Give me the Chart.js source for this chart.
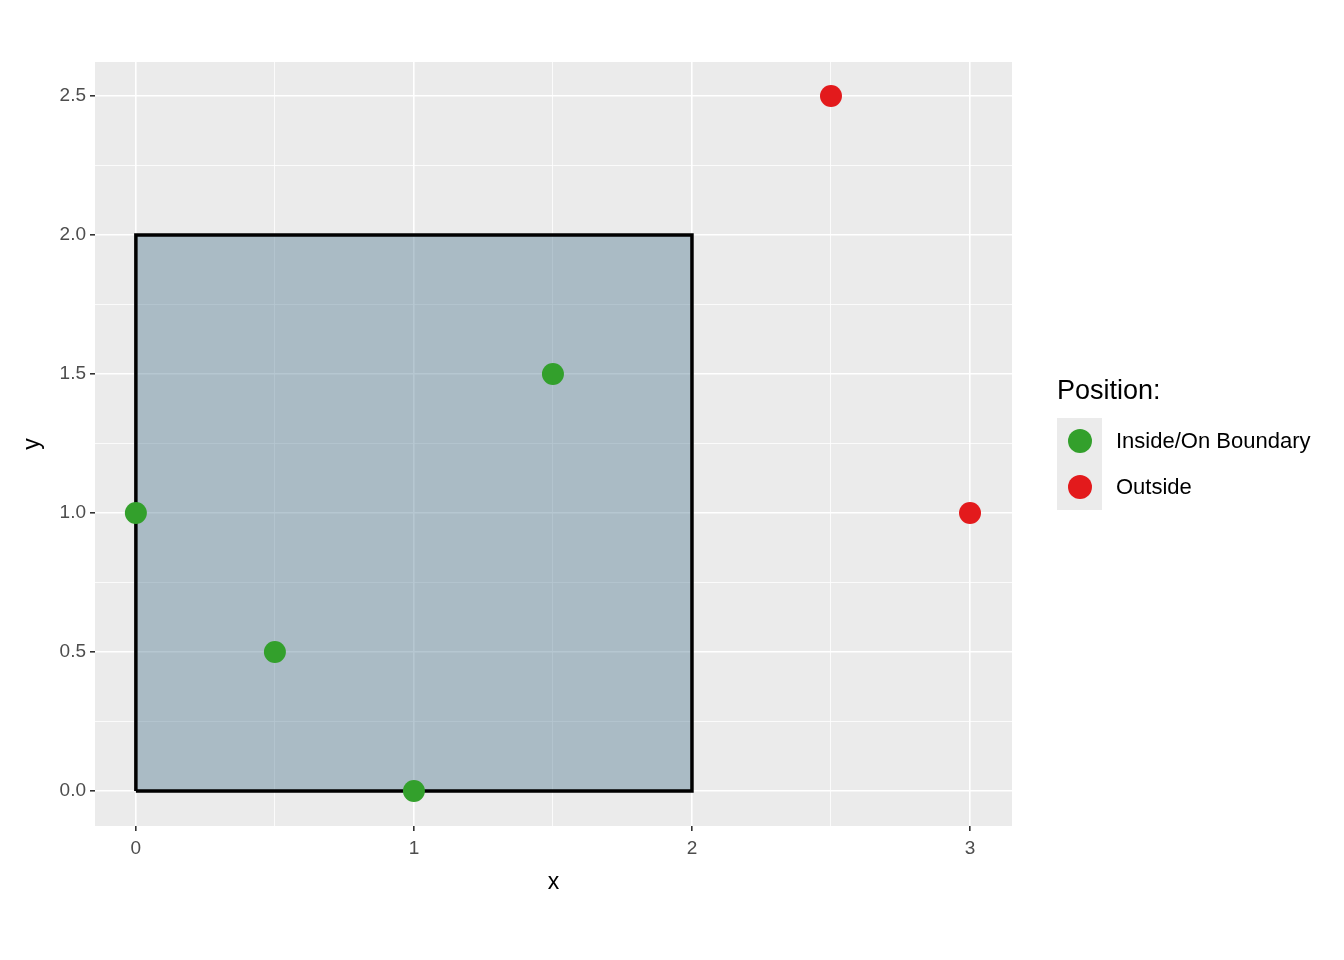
<!DOCTYPE html>
<html lang="en">
<head>
<meta charset="UTF-8">
<title>Points vs rectangle</title>
<script src="https://cdn.jsdelivr.net/npm/chart.js@4"></script>
<style>
  body { margin: 0; background: #fff; font-family: Arial, "Liberation Sans", sans-serif; }
  #wrap { position: relative; width: 1344px; height: 960px; }
  #legend { position: absolute; left: 1057px; top: 375px; color: #000; }
  #legend .title { font-size: 27px; margin-bottom: 12px; }
  #legend .row { display: flex; align-items: center; height: 46px; font-size: 22px; }
  #legend .key { width: 45px; height: 46px; background: #ebebeb; display: flex; align-items: center; justify-content: center; margin-right: 14px; }
  #legend .dot { width: 24px; height: 24px; border-radius: 50%; }
</style>
</head>
<body>
<div id="wrap">
  <canvas id="c" width="1344" height="960"></canvas>
  <div id="legend">
    <div class="title">Position:</div>
    <div class="row"><div class="key"><div class="dot" style="background:#33a02c"></div></div>Inside/On Boundary</div>
    <div class="row"><div class="key"><div class="dot" style="background:#e31a1c"></div></div>Outside</div>
  </div>
</div>
<script>
const insideX = [0, 0.5, 1, 1.5];
const insideY = [1, 0.5, 0, 1.5];
const outsideX = [2.5, 3];
const outsideY = [2.5, 1];
const rectX = [0, 0, 2, 2, 0];
const rectY = [0, 2, 2, 0, 0];
const rectTopX = [0, 2];
const rectTopY = [2, 2];
const xTicks = [0, 0.5, 1, 1.5, 2, 2.5, 3];
const yTicks = [0, 0.25, 0.5, 0.75, 1, 1.25, 1.5, 1.75, 2, 2.25, 2.5];

const zip = (xs, ys) => xs.map((x, i) => ({ x: x, y: ys[i] }));

const panelBg = {
  id: 'panelBg',
  beforeDraw(chart) {
    const a = chart.chartArea, ctx = chart.ctx;
    ctx.save();
    ctx.fillStyle = '#ebebeb';
    ctx.fillRect(a.left, a.top, a.right - a.left, a.bottom - a.top);
    ctx.restore();
  }
};

function axis(ticks, major, min, max, size, isX) {
  return {
    type: 'linear', min: min, max: max,
    afterBuildTicks: s => { s.ticks = ticks.map(v => ({ value: v })); },
    afterFit: s => { if (isX) s.height = size; else s.width = size; },
    grid: {
      color: '#ffffff',
      lineWidth: c => (c.tick && c.tick.value % major === 0) ? 1.6 : 0.8,
      tickColor: c => (c.tick && c.tick.value % major === 0) ? '#333333' : 'rgba(0,0,0,0)',
      tickLength: 5
    },
    border: { display: false },
    ticks: {
      color: '#4d4d4d',
      font: { size: 19, family: 'Arial, "Liberation Sans"' },
      padding: isX ? 6 : 4,
      autoSkip: false,
      maxRotation: 0,
      callback: v => v % major === 0 ? (isX ? String(v) : v.toFixed(1)) : ''
    },
    title: {
      display: true, text: isX ? 'x' : 'y', color: '#000',
      font: { size: 23, family: 'Arial, "Liberation Sans"' },
      padding: 0
    }
  };
}

new Chart(document.getElementById('c'), {
  type: 'scatter',
  data: {
    datasets: [
      {
        data: zip(rectTopX, rectTopY), showLine: true, fill: 'origin',
        backgroundColor: 'rgba(72,115,140,0.4)', borderWidth: 0,
        pointRadius: 0, order: 3
      },
      {
        data: zip(rectX, rectY), showLine: true, fill: false,
        borderColor: '#000', borderWidth: 3.5,
        pointRadius: 0, tension: 0, order: 2
      },
      {
        data: zip(insideX, insideY), backgroundColor: '#33a02c', borderWidth: 0,
        pointRadius: 11, pointHoverRadius: 11, order: 1
      },
      {
        data: zip(outsideX, outsideY), backgroundColor: '#e31a1c', borderWidth: 0,
        pointRadius: 11, pointHoverRadius: 11, order: 1
      }
    ]
  },
  options: {
    responsive: false, animation: false,
    clip: false,
    layout: { padding: { top: 62, right: 332, left: 19, bottom: 64 } },
    plugins: { legend: { display: false }, tooltip: { enabled: false } },
    scales: {
      x: axis(xTicks, 1, -0.147, 3.151, 70, true),
      y: axis(yTicks, 0.5, -0.126, 2.622, 76, false)
    }
  },
  plugins: [panelBg]
});
</script>
</body>
</html>
